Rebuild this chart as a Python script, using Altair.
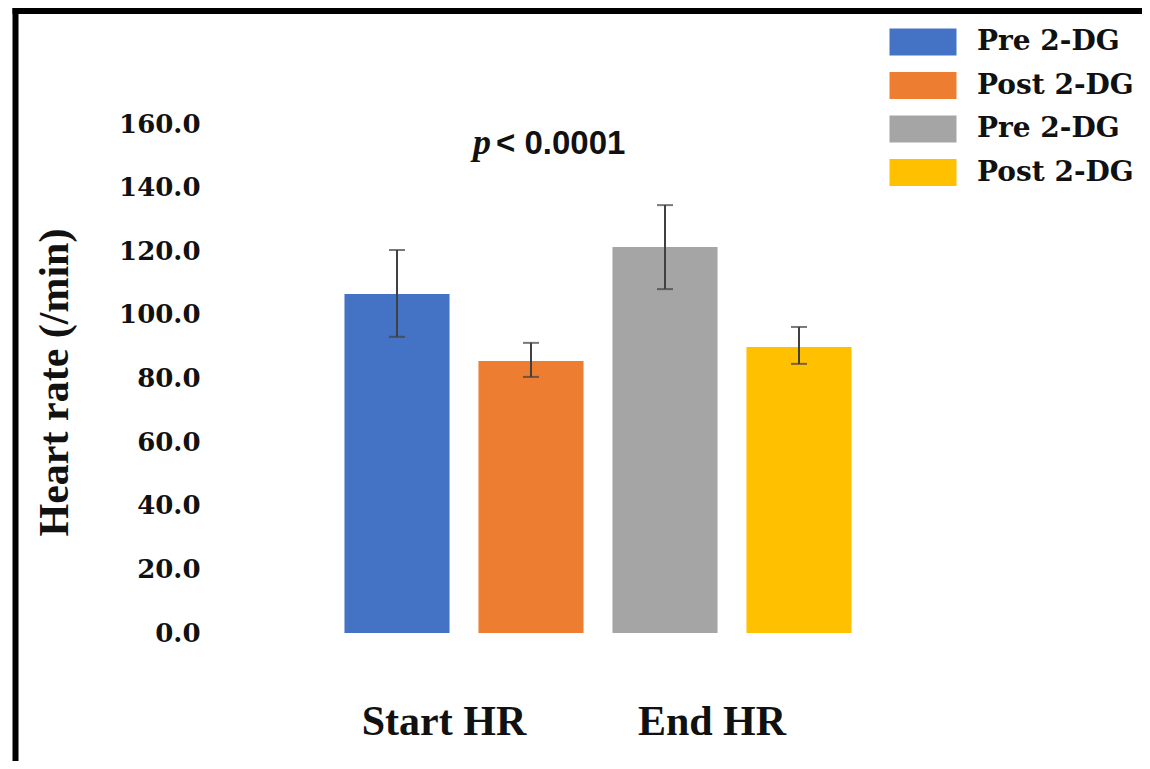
import altair as alt
import pandas as pd

# ---- data ----
groups = ["Start HR", "Start HR", "End HR", "End HR"]
phases = ["Pre 2-DG", "Post 2-DG", "Pre 2-DG", "Post 2-DG"]
means = [106.6, 85.5, 121.3, 89.9]
err_low = [93.1, 80.5, 108.1, 84.6]
err_high = [120.4, 91.2, 134.5, 96.2]
series_keys = ["Pre 2-DG|1", "Post 2-DG|1", "Pre 2-DG|2", "Post 2-DG|2"]
colors = ["#4472C4", "#ED7D31", "#A5A5A5", "#FFC000"]
y_ticks = [0, 20, 40, 60, 80, 100, 120, 140, 160]

df = pd.DataFrame({
    "group": groups,
    "phase": phases,
    "mean": means,
    "lo": err_low,
    "hi": err_high,
    "series": series_keys,
})

W, H = 536, 509
PAD_L, PAD_T, PAD_R, PAD_B = 322, 116, 276, 128

x_enc = alt.X(
    "group:N",
    sort=["Start HR", "End HR"],
    scale=alt.Scale(paddingInner=0, paddingOuter=0),
    axis=alt.Axis(
        title=None, labelAngle=0, domain=False, ticks=False, tickSize=0,
        labelFont="Liberation Serif", labelFontWeight="bold", labelFontSize=42,
        labelColor="#111111", labelBaseline="alphabetic", labelPadding=101,
        labelOffset=-20,
    ),
)
xoff_enc = alt.XOffset(
    "phase:N", sort=["Pre 2-DG", "Post 2-DG"],
    scale=alt.Scale(paddingInner=0.216, paddingOuter=0.108),
)

bars = alt.Chart(df).mark_bar().encode(
    x=x_enc,
    xOffset=xoff_enc,
    y=alt.Y(
        "mean:Q",
        scale=alt.Scale(domain=[0, 160], nice=False),
        axis=alt.Axis(
            values=y_ticks, format=".1f", grid=False, domain=False, ticks=False, tickSize=0,
            labelFont="DejaVu Serif", labelFontWeight="bold", labelFontSize=26,
            labelColor="#111111", labelPadding=130, labelBaseline="middle",
            title="Heart rate (/min)", titleFont="Liberation Serif", titleFontWeight="bold",
            titleFontSize=42, titleColor="#111111", titleAngle=-90,
            titleBaseline="alphabetic", titleAlign="center", titleX=-263, titleY=258,
        ),
    ),
    color=alt.Color(
        "series:N",
        scale=alt.Scale(domain=series_keys, range=colors),
        legend=alt.Legend(
            title=None, orient="none", legendX=576, legendY=-99, padding=0, offset=0,
            symbolType="M-2,-0.8L2,-0.8L2,0.8L-2,0.8Z", symbolSize=1122,
            symbolStrokeWidth=0, symbolOpacity=1,
            labelFont="DejaVu Serif", labelFontWeight="bold", labelFontSize=28,
            labelColor="#111111", labelOffset=37, rowPadding=12.5,
            labelExpr="split(datum.label, '|')[0]", labelLimit=300,
        ),
    ),
)

err_line = alt.Chart(df).mark_rule(color="#404040", strokeWidth=2).encode(
    x=alt.X("group:N", sort=["Start HR", "End HR"]),
    xOffset=xoff_enc,
    y="lo:Q",
    y2="hi:Q",
)
cap_hi = alt.Chart(df).mark_tick(color="#404040", thickness=2, size=16).encode(
    x=alt.X("group:N", sort=["Start HR", "End HR"]),
    xOffset=xoff_enc,
    y="hi:Q",
)
cap_lo = alt.Chart(df).mark_tick(color="#404040", thickness=2, size=16).encode(
    x=alt.X("group:N", sort=["Start HR", "End HR"]),
    xOffset=xoff_enc,
    y="lo:Q",
)

one = alt.Data(values=[{"a": 1}])
p_italic = alt.Chart(one).mark_text(
    text="p", font="Liberation Serif", fontStyle="italic", fontWeight="bold",
    fontSize=36, align="left", baseline="alphabetic", color="#111111",
).encode(x=alt.value(143), y=alt.value(30))
p_rest = alt.Chart(one).mark_text(
    text="< 0.0001", font="Liberation Sans", fontWeight="bold",
    fontSize=33, align="left", baseline="alphabetic", color="#111111",
).encode(x=alt.value(166), y=alt.value(30))

border_left = alt.Chart(one).mark_rule(color="black", strokeWidth=6).encode(
    x=alt.value(-314.5), y=alt.value(-PAD_T), y2=alt.value(H + PAD_B)
)
border_top = alt.Chart(one).mark_rule(color="black", strokeWidth=6).encode(
    x=alt.value(-317.5), x2=alt.value(W + PAD_R), y=alt.value(-113)
)

chart = alt.layer(
    bars, err_line, cap_hi, cap_lo, p_italic, p_rest, border_left, border_top
).properties(
    width=W, height=H,
    autosize=alt.AutoSizeParams(type="none"),
    padding={"left": PAD_L, "top": PAD_T, "right": PAD_R, "bottom": PAD_B},
    background="white",
).configure_view(stroke=None)

chart.save("out.html", embed_options={"renderer": "svg", "actions": False})
